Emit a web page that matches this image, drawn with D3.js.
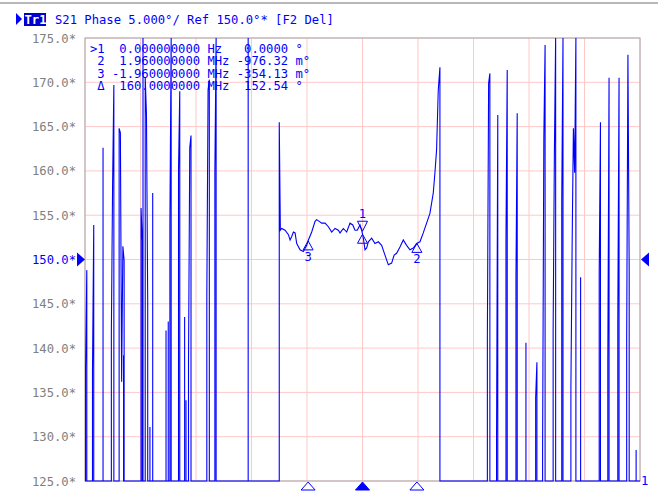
<!DOCTYPE html>
<html lang="en">
<head>
    <meta charset="UTF-8">
    <title>S21 Phase</title>
    <script src="https://cdn.jsdelivr.net/npm/d3@7/dist/d3.min.js"></script>
    <style>
        body { margin: 0; background: #fff; }
        text { font-family: "DejaVu Sans Mono", monospace; font-size: 12.2px; }
        .tick-label { fill: #808080; text-anchor: end; }
        .mk { fill: #0000ff; }
    </style>
</head>
<body>
<svg width="658" height="495"></svg>
<script>
    // y axis ticks (deg)
    var yTicks = [175, 170, 165, 160, 155, 150, 145, 140, 135, 130, 125];
    var refLevel = 150;

    // spikes left of the smooth part: [MHz, successive levels in deg]
    var leftSpikes = [
        [-9.98, [137.8, 148.8]],
        [-9.73, [137.5, 153.9]],
        [-9.35, [162.6]],
        [-9.05, [141.8, 158.7, 169.7]],
        [-8.77, [164.8, 164.3, 136.2, 151.5, 149.9]],
        [-8.61, [139.2]],
        [-7.98, [155.8, 152.0]],
        [-7.91, [178]],
        [-7.83, [170.6, 166.3, 145.1]],
        [-7.74, [128.0]],
        [-7.66, [131.1]],
        [-7.56, [157.5]],
        [-7.08, [142.0]],
        [-7.00, [143.0]],
        [-6.94, [154.5, 178]],
        [-6.63, [160.1, 169.0]],
        [-6.41, [143.5]],
        [-6.36, [134.1]],
        [-6.27, [138.3, 162.6, 164.0]],
        [-5.61, [145.8, 169.1, 170.3]],
        [-5.32, [159.9, 178]],
        [-4.12, [178]]
    ];

    // smooth section around centre
    var centerFreq = [-3.00, -2.97, -2.96, -2.91, -2.79, -2.67, -2.61, -2.55, -2.49, -2.43,
        -2.37, -2.25, -2.13, -2.01, -1.95, -1.83, -1.71, -1.65, -1.56, -1.47,
        -1.35, -1.23, -1.11, -0.99, -0.87, -0.81, -0.69, -0.57, -0.45, -0.35,
        -0.27, -0.19, -0.09, -0.03, 0.03, 0.09, 0.15, 0.21, 0.33, 0.45,
        0.57, 0.69, 0.81, 0.93, 1.05, 1.14, 1.23, 1.35, 1.47, 1.59,
        1.71, 1.83, 1.95, 2.07, 2.19, 2.31, 2.43, 2.55, 2.61, 2.67,
        2.73, 2.79];
    var centerPhase = [165.5, 156.2, 153.3, 153.5, 153.3, 152.8, 152.2, 152.6, 153.1, 153.0,
        151.8, 151.1, 150.9, 151.6, 152.2, 153.1, 154.3, 154.5, 154.3, 154.1,
        154.1, 153.7, 153.1, 153.5, 153.3, 153.0, 153.5, 153.1, 154.1, 153.9,
        153.3, 153.3, 153.9, 153.3, 152.4, 151.1, 151.3, 152.0, 152.4, 151.8,
        152.0, 151.6, 150.5, 149.4, 149.6, 150.5, 150.7, 151.4, 152.2, 151.6,
        151.1, 151.3, 151.8, 152.0, 153.0, 154.1, 155.2, 157.5, 159.8, 162.4,
        169.1, 171.7];

    var rightSpikes = [
        [4.50, [141.3, 169.9, 171.0]],
        [4.83, [129.4, 166.3]],
        [5.17, [152.2, 171.4]],
        [5.53, [147.9, 166.5]],
        [5.89, [140.6]],
        [6.24, [134.4, 138.4]],
        [6.49, [128.7, 163.8, 174.2]],
        [6.87, [142.0, 162.1, 178]],
        [7.18, [156.7, 178]],
        [7.51, [135.5, 151.9, 164.8, 159.8, 178]],
        [7.86, [148.0]],
        [8.53, [148.6, 165.5]],
        [8.84, [138.3, 170.5]],
        [9.20, [143.2, 170.5]],
        [9.52, [141.1, 173.1, 149.0]],
        [9.86, [128.5]]
    ];

    var markers = [
        {id: "1", f: 0},
        {id: "2", f: 1.96},
        {id: "3", f: -1.96}
    ];
    var markerRows = [
        ">1  0.000000000 Hz   0.0000 \u00b0",
        " 2  1.960000000 MHz -976.32 m\u00b0",
        " 3 -1.960000000 MHz -354.13 m\u00b0",
        " \u0394  160.0000000 MHz  152.54 \u00b0"
    ];

    var svg = d3.select("svg");
    var plotL = 85, plotR = 640, plotT = 38, plotB = 481;
    var x = d3.scaleLinear().domain([-10, 10]).range([plotL, plotR]);
    var y = d3.scaleLinear().domain([125, 175]).range([plotB, plotT]).clamp(true);

    // window line at very top
    svg.append("line").attr("x1", 0).attr("x2", 658).attr("y1", 3).attr("y2", 3)
        .attr("stroke", "#b8b8b8").attr("stroke-width", 2);

    // header
    svg.append("path").attr("d", "M16,13L22,19L16,25Z").attr("fill", "#0000ff");
    svg.append("rect").attr("x", 24).attr("y", 13).attr("width", 22).attr("height", 13).attr("fill", "#0000d0");
    svg.append("text").attr("x", 24.5).attr("y", 24).attr("fill", "#fff").attr("font-weight", "bold").text("Tr1");
    svg.append("text").attr("x", 55).attr("y", 24).attr("fill", "#0000ff")
        .text("S21 Phase 5.000\u00b0/ Ref 150.0\u00b0*  [F2 Del]");

    // grid
    var grid = svg.append("g");
    grid.selectAll(".h").data(yTicks).enter().append("line")
        .attr("x1", plotL).attr("x2", plotR)
        .attr("y1", function(d) { return y(d); }).attr("y2", function(d) { return y(d); })
        .attr("stroke", "#ffc8c8");
    grid.selectAll(".v").data(d3.range(-10, 10.01, 2)).enter().append("line")
        .attr("y1", plotT).attr("y2", plotB)
        .attr("x1", function(d) { return x(d); }).attr("x2", function(d) { return x(d); })
        .attr("stroke", "#ffc8c8");
    svg.append("rect").attr("x", plotL).attr("y", plotT).attr("width", plotR - plotL).attr("height", plotB - plotT)
        .attr("fill", "none").attr("stroke", "#a8a8a8");

    // tick labels
    svg.selectAll(".tick-label").data(yTicks).enter().append("text")
        .attr("class", "tick-label")
        .attr("x", 76).attr("y", function(d) { return y(d) + 4.5; })
        .style("fill", function(d) { return d === refLevel ? "#0000ff" : null; })
        .text(function(d) { return d.toFixed(1) + "*"; });

    // build trace
    var floor = 120, step = 0.045;
    var pts = [[-10, floor]];
    function addSpikes(list) {
        list.forEach(function(s) {
            var f = s[0];
            pts.push([f, floor]);
            s[1].forEach(function(v, i) { pts.push([f + i * step, v]); });
            pts.push([f + (s[1].length - 1) * step, floor]);
        });
    }
    addSpikes(leftSpikes);
    pts.push([centerFreq[0], floor]);
    centerFreq.forEach(function(f, i) { pts.push([f, centerPhase[i]]); });
    pts.push([centerFreq[centerFreq.length - 1], floor]);
    addSpikes(rightSpikes);
    pts.push([10, floor]);

    var line = d3.line()
        .x(function(d) { return x(d[0]); })
        .y(function(d) { return y(d[1]); });
    svg.append("path").datum(pts)
        .attr("d", line)
        .attr("fill", "none").attr("stroke", "#0000ff").attr("stroke-width", 1.1);

    // marker table
    svg.selectAll(".row").data(markerRows).enter().append("text")
        .attr("x", 90).attr("y", function(d, i) { return 53 + i * 12.3; })
        .attr("fill", "#0000ff").style("white-space", "pre")
        .text(function(d) { return d; });

    // markers on trace
    function phaseAt(f) {
        var i = d3.bisectLeft(centerFreq, f);
        var f0 = centerFreq[i - 1], f1 = centerFreq[i];
        var t = (f - f0) / (f1 - f0);
        return centerPhase[i - 1] + t * (centerPhase[i] - centerPhase[i - 1]);
    }
    markers.forEach(function(m) {
        var mx = x(m.f), my = y(phaseAt(m.f));
        svg.append("path").attr("d", "M" + mx + "," + my + "l-5,9h10z")
            .attr("fill", "none").attr("stroke", "#0000ff");
        if (m.id === "1") {
            svg.append("path").attr("d", "M" + mx + "," + (my - 3) + "l-5,-10h10z")
                .attr("fill", "none").attr("stroke", "#0000ff");
            svg.append("text").attr("class", "mk").attr("x", mx).attr("y", my - 16)
                .attr("text-anchor", "middle").text(m.id);
        } else {
            svg.append("text").attr("class", "mk").attr("x", mx).attr("y", my + 20)
                .attr("text-anchor", "middle").text(m.id);
        }
        // markers under the axis
        svg.append("path").attr("d", "M" + mx + "," + (plotB + 1) + "l-7,8h14z")
            .attr("fill", m.id === "1" ? "#0000ff" : "#fff").attr("stroke", "#0000ff");
    });

    // reference level arrows
    svg.append("path").attr("d", "M77," + (y(refLevel) - 7) + "l8,7l-8,7z").attr("fill", "#0000ff");
    svg.append("path").attr("d", "M649," + (y(refLevel) - 7) + "l-8,7l8,7z").attr("fill", "#0000ff");
    svg.append("text").attr("class", "mk").attr("x", 641).attr("y", 485).text("1");
</script>
</body>
</html>
